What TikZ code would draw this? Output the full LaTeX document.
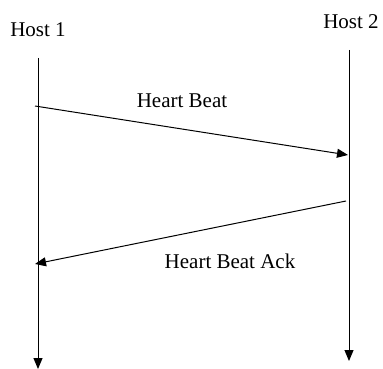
\documentclass[tikz,border=0pt]{standalone}
\usepackage{fontspec}
\setmainfont{Liberation Serif}
\usetikzlibrary{arrows.meta, positioning}

\begin{document}
\begin{tikzpicture}[
        x=1pt, y=-1pt,
        host/.style={font=\fontsize{21}{25}\selectfont, inner sep=0pt},
        msg/.style={font=\fontsize{21}{25}\selectfont, inner sep=0pt},
        line/.style={line width=1pt},
        >={Triangle[length=11pt, width=9pt]}
    ]
        \useasboundingbox (0,0) rectangle (383,369);

        \node[host] (host1) at (38,30) {Host 1};
        \node[host] (host2) at (351,22) {Host 2};

        % lifelines
        \coordinate (h1top) at (38,58);
        \coordinate (h1bot) at (38,369);
        \coordinate (h2top) at (349,50);
        \coordinate (h2bot) at (349,361);
        \draw[line, ->] (h1top) -- (h1bot);
        \draw[line, ->] (h2top) -- (h2bot);

        % messages
        \coordinate (hbstart) at (35,106);
        \coordinate (hbend) at (348,155);
        \coordinate (ackstart) at (346,201);
        \coordinate (ackend) at (35,264);
        \draw[line, ->] (hbstart) -- (hbend);
        \draw[line, ->] (ackstart) -- (ackend);

        \node[msg] (hb) at (182,101) {Heart Beat};
        \node[msg] (ack) at (230,261) {Heart Beat Ack};
    \end{tikzpicture}
\end{document}
